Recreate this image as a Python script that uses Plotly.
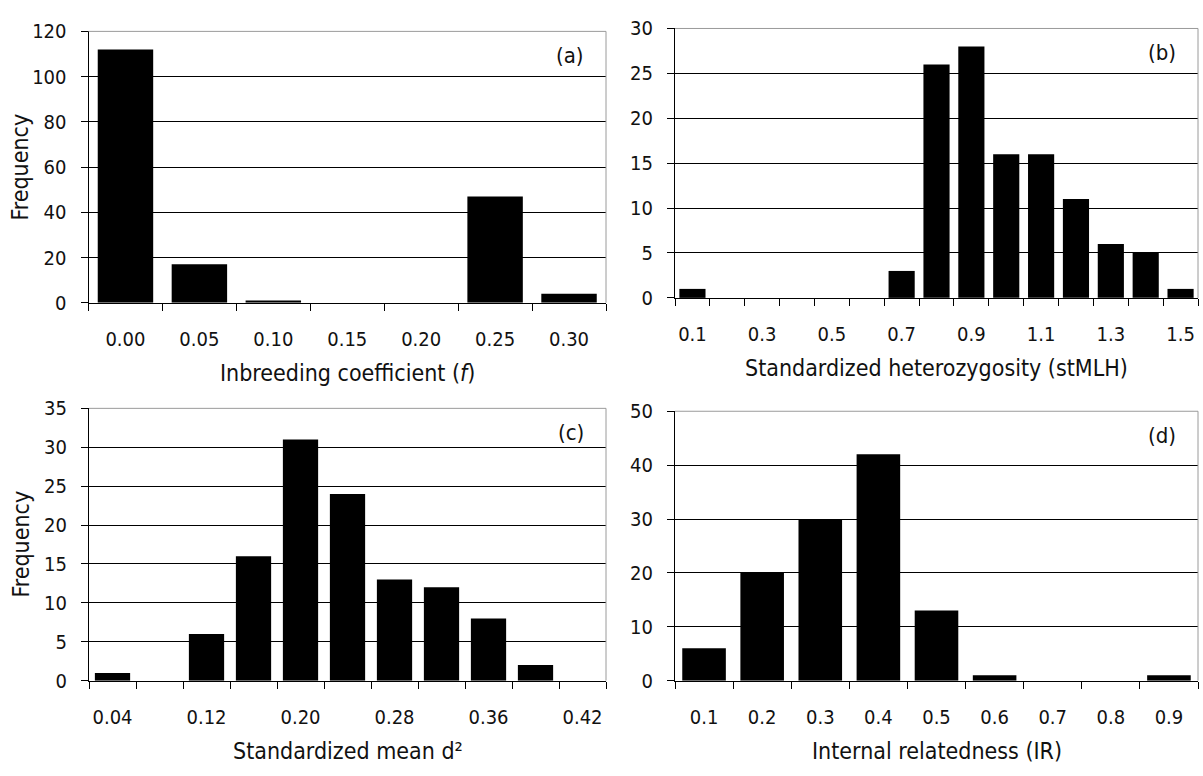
import plotly.graph_objects as go

# ---- data ----
cat_a = ["0.00", "0.05", "0.10", "0.15", "0.20", "0.25", "0.30"]
freq_a = [112, 17, 1, 0, 0, 47, 4]

cat_b = ["0.1", "0.2", "0.3", "0.4", "0.5", "0.6", "0.7", "0.8",
         "0.9", "1.0", "1.1", "1.2", "1.3", "1.4", "1.5"]
freq_b = [1, 0, 0, 0, 0, 0, 3, 26, 28, 16, 16, 11, 6, 5, 1]

cat_c = ["0.04", "0.08", "0.12", "0.16", "0.20", "0.24", "0.28",
         "0.32", "0.36", "0.40", "0.42"]
freq_c = [1, 0, 6, 16, 31, 24, 13, 12, 8, 2, 0]

cat_d = ["0.1", "0.2", "0.3", "0.4", "0.5", "0.6", "0.7", "0.8", "0.9"]
freq_d = [6, 20, 30, 42, 13, 1, 0, 0, 1]

xtitles = ["Inbreeding coefficient (<i>f</i>)",
           "Standardized heterozygosity (stMLH)",
           "Standardized mean d²",
           "Internal relatedness (IR)"]
panel_tags = ["(a)", "(b)", "(c)", "(d)"]
ytitle = "Frequency"

# ---- figure ----
W, H = 1203, 776
FONT = "DejaVu Sans Condensed, DejaVu Sans, sans-serif"
TXT = "#111111"

def px_dom_x(a, b):
    return [a / W, b / W]

def px_dom_y(top, bottom):
    return [1 - bottom / H, 1 - top / H]

panels = [
    dict(cats=cat_a, vals=freq_a, xd=px_dom_x(88.5, 606), yd=px_dom_y(20, 300),
         yr=[0, 120], dt=20, every=1),
    dict(cats=cat_b, vals=freq_b, xd=px_dom_x(675, 1198), yd=px_dom_y(17, 295),
         yr=[0, 30], dt=5, every=2),
    dict(cats=cat_c, vals=freq_c, xd=px_dom_x(89, 606), yd=px_dom_y(409, 690),
         yr=[0, 35], dt=5, every=2),
    dict(cats=cat_d, vals=freq_d, xd=px_dom_x(675, 1198), yd=px_dom_y(412, 690),
         yr=[0, 50], dt=10, every=1),
]

fig = go.Figure()
annotations = []
shapes = []
for i, p in enumerate(panels):
    n = i + 1
    xa = "x" if n == 1 else f"x{n}"
    ya = "y" if n == 1 else f"y{n}"
    fig.add_trace(go.Bar(x=p["cats"], y=p["vals"], xaxis=xa, yaxis=ya,
                         marker=dict(color="black", line=dict(width=0)),
                         showlegend=False))
    ticktext = [c if (k % p["every"] == 0) else "" for k, c in enumerate(p["cats"])]
    fig.update_layout(**{
        ("xaxis" if n == 1 else f"xaxis{n}"): dict(
            domain=p["xd"], anchor=ya, type="category",
            tickmode="array", tickvals=p["cats"], ticktext=ticktext, tickangle=0,
            tickson="boundaries", ticks="outside", ticklen=7, tickcolor="black",
            showline=True, linecolor="black", linewidth=1, showgrid=False,
            tickfont=dict(family=FONT, size=20, color=TXT),
            ticklabelstandoff=18, fixedrange=True),
        ("yaxis" if n == 1 else f"yaxis{n}"): dict(
            domain=p["yd"], anchor=xa, range=p["yr"], dtick=p["dt"], tick0=0,
            ticks="outside", ticklen=7, tickcolor="black",
            showline=True, linecolor="black", linewidth=1,
            showgrid=True, gridcolor="black", gridwidth=1, zeroline=False,
            tickfont=dict(family=FONT, size=20, color=TXT),
            ticklabelstandoff=10, fixedrange=True),
    })
    # gray top & right plot-area border
    shapes.append(dict(type="line", xref=f"{xa} domain", yref=f"{ya} domain",
                       x0=0, x1=1, y0=1, y1=1, line=dict(color="#9a9a9a", width=1),
                       layer="above"))
    shapes.append(dict(type="line", xref=f"{xa} domain", yref=f"{ya} domain",
                       x0=1, x1=1, y0=0, y1=1, line=dict(color="#9a9a9a", width=1),
                       layer="above"))
    # panel tag
    annotations.append(dict(text=panel_tags[i], xref=f"{xa} domain", yref=f"{ya} domain",
                            x=1, y=1, xanchor="right", yanchor="top", xshift=-20, yshift=-10,
                            showarrow=False, font=dict(family=FONT, size=22, color=TXT)))
    # x title
    annotations.append(dict(text=xtitles[i], xref=f"{xa} domain", yref=f"{ya} domain",
                            x=0.5, y=0, xanchor="center", yanchor="middle", yshift=-70,
                            showarrow=False, font=dict(family=FONT, size=23, color=TXT)))
    if n in (1, 3):
        annotations.append(dict(text=ytitle, xref=f"{xa} domain", yref=f"{ya} domain",
                                x=0, y=0.5, xanchor="center", yanchor="middle", xshift=-68,
                                textangle=-90, showarrow=False,
                                font=dict(family=FONT, size=23, color=TXT)))

fig.update_layout(width=W, height=H, margin=dict(l=0, r=0, t=0, b=0),
                  paper_bgcolor="white", plot_bgcolor="white",
                  bargap=0.25, annotations=annotations, shapes=shapes)

fig.write_html("out.html",
               config={"displayModeBar": False, "staticPlot": True},
               post_script="document.body.style.margin='0';"
                           "document.body.style.overflow='hidden';")
